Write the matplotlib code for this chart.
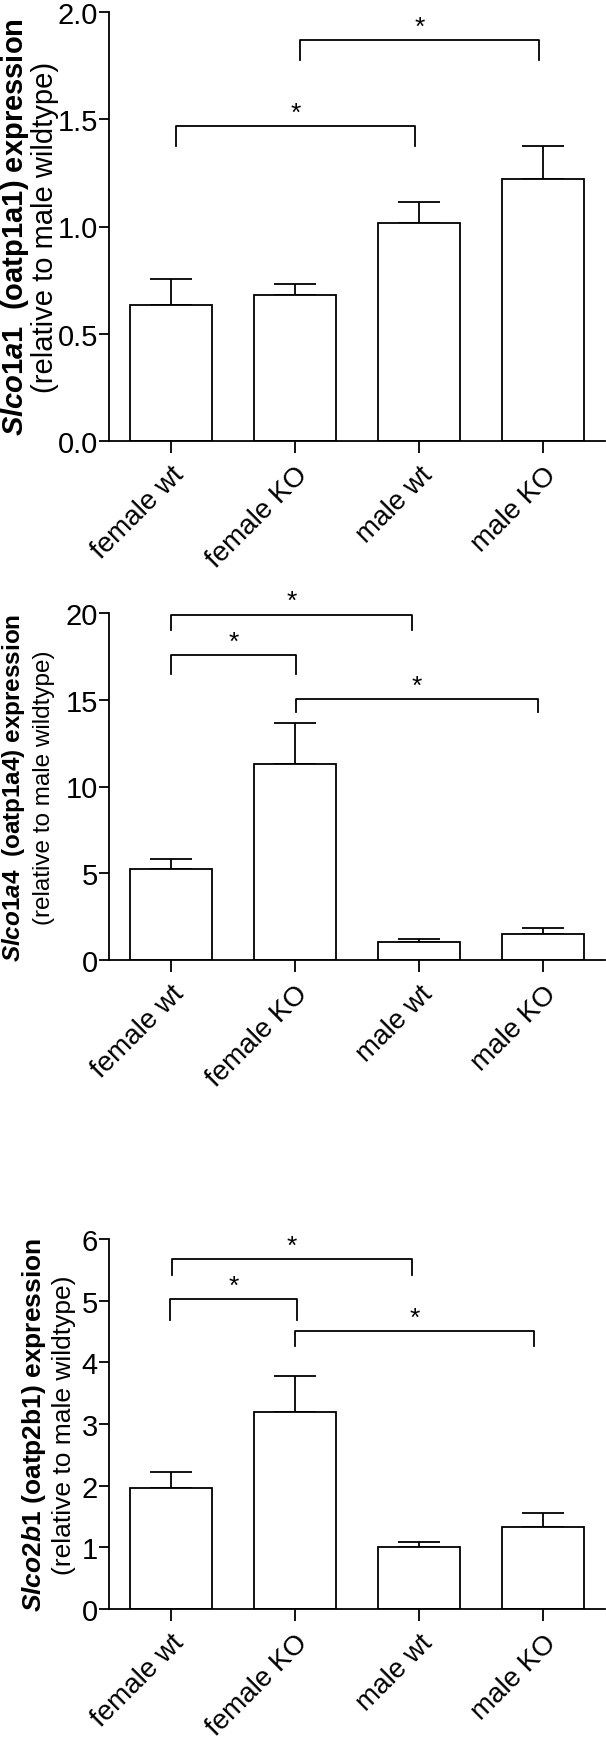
import numpy as np
import matplotlib
matplotlib.use("Agg")
from matplotlib import pyplot as plt

plt.rcParams['font.family'] = ['Liberation Sans', 'DejaVu Sans']
plt.rcParams['mathtext.fontset'] = 'custom'
plt.rcParams['mathtext.it'] = 'Liberation Sans:italic:bold'
plt.rcParams['mathtext.rm'] = 'Liberation Sans:bold'

groups = ["female wt", "female KO", "male wt", "male KO"]

# panel 1: Slco1a1
p1_mean = [0.636, 0.681, 1.018, 1.22]
p1_sem = [0.119, 0.050, 0.095, 0.157]
p1_ticks = [0.0, 0.5, 1.0, 1.5, 2.0]
# brackets: (x left, x right, line y, tip y)
p1_brackets = [(0.04, 1.97, 1.468, 1.375), (1.04, 2.97, 1.870, 1.777)]

# panel 2: Slco1a4
p2_mean = [5.22, 11.30, 1.04, 1.51]
p2_sem = [0.63, 2.35, 0.18, 0.31]
p2_ticks = [0, 5, 10, 15, 20]
p2_brackets = [(0.0, 1.94, 19.91, 19.01), (0.0, 1.01, 17.6, 16.49),
               (1.01, 2.96, 15.05, 14.28)]

# panel 3: Slco2b1
p3_mean = [1.956, 3.199, 0.998, 1.322]
p3_sem = [0.271, 0.575, 0.092, 0.231]
p3_ticks = [0, 1, 2, 3, 4, 5, 6]
p3_brackets = [(0.01, 1.94, 5.67, 5.41), (-0.01, 1.02, 5.03, 4.69),
               (1.0, 2.93, 4.51, 4.26)]

W, H = 606, 1740
fig = plt.figure(figsize=(W / 100, H / 100), dpi=100)


def frac_box(left, top, right, bottom):
    return [left / W, 1 - bottom / H, (right - left) / W, (bottom - top) / H]


def panel(box, mean, sem, ticks, fmt, brackets, gene, iso, lab_fs, lab_x, gap):
    ax = fig.add_axes(frac_box(*box))
    x = np.arange(len(groups))
    ax.bar(x, mean, width=0.66, color='white', edgecolor='black', linewidth=1.3, zorder=2)
    ax.errorbar(x, mean, yerr=[np.zeros(len(sem)), sem], fmt='none', ecolor='black',
                elinewidth=1.3, capsize=14.8, capthick=1.3, zorder=1)
    ax.set_xlim(-0.5, 3.5)
    ax.set_ylim(ticks[0], ticks[-1])
    ax.set_yticks(ticks)
    ax.set_yticklabels([fmt.format(t) for t in ticks])
    ax.set_xticks(x)
    ax.set_xticklabels(groups, rotation=45, ha='right', va='top', rotation_mode='anchor')
    for s in ['top', 'right']:
        ax.spines[s].set_visible(False)
    for s in ['left', 'bottom']:
        ax.spines[s].set_linewidth(1.3)
    ax.tick_params(axis='y', length=7, width=1.3, pad=1, labelsize=21)
    ax.tick_params(axis='x', length=8.5, width=1.3, pad=6, labelsize=20)
    for x1, x2, yl, yt in brackets:
        ax.plot([x1, x1, x2, x2], [yt, yl, yl, yt], color='black', lw=1.3, clip_on=False)
        ax.annotate('*', xy=((x1 + x2) / 2, yl), xytext=(0, 4.5), textcoords='offset points',
                    ha='center', va='baseline', fontsize=19, annotation_clip=False)
    ymid = 1 - (box[1] + box[3]) / 2 / H
    fig.text(lab_x[0] / W, ymid, r"$\mathit{" + gene + "}$" + gap + "(" + iso + ") expression",
             rotation=90, ha='center', va='center', fontsize=lab_fs, fontweight='bold')
    fig.text(lab_x[1] / W, ymid, "(relative to male wildtype)",
             rotation=90, ha='center', va='center', fontsize=lab_fs)
    return ax


panel((109, 13, 605, 442), p1_mean, p1_sem, p1_ticks, "{:.1f}", p1_brackets,
      "Slco1a1", "oatp1a1", 21, (15, 45), "  ")
panel((109, 614, 605, 961), p2_mean, p2_sem, p2_ticks, "{:d}", p2_brackets,
      "Slco1a4", "oatp1a4", 17.5, (14, 44), "  ")
panel((109, 1240, 605, 1610), p3_mean, p3_sem, p3_ticks, "{:d}", p3_brackets,
      "Slco2b1", "oatp2b1", 19, (34, 64), " ")

fig.savefig("out.png", dpi=100)
